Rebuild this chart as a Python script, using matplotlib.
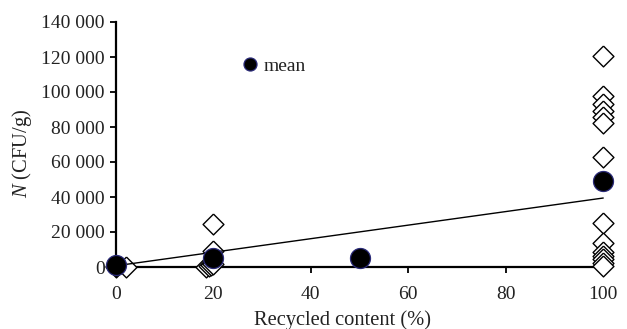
import matplotlib
matplotlib.use("Agg")
import matplotlib.pyplot as plt
import numpy as np
from matplotlib.ticker import FuncFormatter

plt.rcParams['font.family'] = ['Liberation Serif', 'DejaVu Serif']
plt.rcParams['mathtext.fontset'] = 'custom'
plt.rcParams['mathtext.it'] = 'Liberation Serif:italic'
plt.rcParams['mathtext.rm'] = 'Liberation Serif'

# individual measurements (x = recycled content %, y = N CFU/g)
obs_x = [0, 0, 2,
         18.5, 19, 19.5, 20, 20, 20,
         100, 100, 100, 100, 100, 100, 100,
         100, 100, 100, 100, 100, 100, 100]
obs_y = [0, 500, 0,
         0, 500, 1000, 1500, 9400, 24500,
         120500, 98000, 93000, 89000, 86000, 82500, 63000,
         25000, 14000, 8500, 6500, 4500, 2500, 500]

# group means
mean_x = [0, 20, 50, 100]
mean_y = [1000, 5100, 5300, 49300]

# trend line end points (linear fit)
trend_x = [0, 100]
trend_y = [700, 39400]

xticks = [0, 20, 40, 60, 80, 100]
yticks = [0, 20000, 40000, 60000, 80000, 100000, 120000, 140000]

W, H = 627, 329
fig = plt.figure(figsize=(W / 100, H / 100), dpi=100)
ax = fig.add_axes([116 / W, 62 / H, 487 / W, 245 / H])

diamond = [(0, 1), (1, 0), (0, -1), (-1, 0), (0, 1)]
ax.plot(obs_x, obs_y, linestyle='none', marker=diamond, markersize=15,
        markerfacecolor='white', markeredgecolor='black', markeredgewidth=1.0,
        zorder=3, clip_on=False)
ax.plot(trend_x, trend_y, color='black', linewidth=1.0, zorder=3.5, clip_on=False)
ax.plot(mean_x, mean_y, linestyle='none', marker='o', markersize=14.4,
        markerfacecolor='black', markeredgecolor='#2a2a78', markeredgewidth=0.9,
        zorder=4, clip_on=False, label='mean')

ax.set_xlim(0, 100)
ax.set_ylim(0, 140000)
ax.set_xticks(xticks)
ax.set_yticks(yticks)
ax.yaxis.set_major_formatter(FuncFormatter(lambda v, p: f"{int(v):,}".replace(",", " ")))

for s in ['top', 'right']:
    ax.spines[s].set_visible(False)
for s in ['left', 'bottom']:
    ax.spines[s].set_linewidth(1.6)
    ax.spines[s].set_color('black')

ax.tick_params(axis='both', direction='out', length=4, width=1.3, colors='black',
               labelsize=14, labelcolor='#222222')
ax.tick_params(axis='x', pad=10)
ax.tick_params(axis='y', pad=4)

fig.text(342 / W, 4 / H, 'Recycled content (%)', ha='center', va='baseline',
         fontsize=14.8, color='#222222')
fig.text(22 / W, 1 - 153 / H, r'$\mathit{N}$ (CFU/g)', ha='center', va='center',
         rotation=90, fontsize=14.8, color='#222222')

leg = ax.legend(loc='center left', bbox_to_anchor=(242 / W, 1 - 66 / H),
                bbox_transform=fig.transFigure, frameon=False, fontsize=14,
                markerscale=0.65, handlelength=0.8, handletextpad=0.3,
                borderpad=0, borderaxespad=0)
for t in leg.get_texts():
    t.set_color('#222222')

fig.savefig('out.png', dpi=100)
